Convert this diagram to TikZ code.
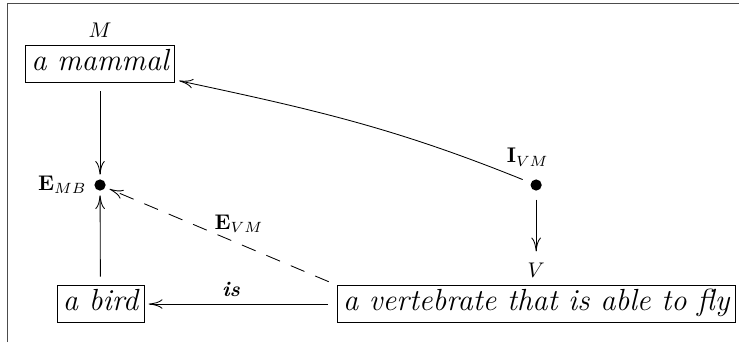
\documentclass[tikz,border=0pt]{standalone}
\usetikzlibrary{arrows.meta}
\begin{document}
\begin{tikzpicture}[x=1cm,y=1cm,
  concept/.style={draw,font=\Large\itshape,inner xsep=2.8pt,inner ysep=2pt,text height=10pt,text depth=3.5pt},
  dot/.style={circle,fill,inner sep=0pt,minimum size=5.3pt},
  link/.style={-{To[length=6.5pt,width=4.5pt]},shorten <=4pt,shorten >=2pt}]
  \useasboundingbox (0,0) rectangle (12.25,5.67);
  \draw[black!70] (0.116,0) -- (0.116,5.621) -- (12.25,5.621);
  % the concepts
  \node[concept,label=above:$M$] (mammal) at (1.658,4.609) {a mammal};
  \node[concept] (bird) at (1.666,0.630) {a bird};
  \node[concept,label={[name=Vlab]above:$V$}] (vert) at (8.887,0.630) {a vertebrate that is able to fly};
  % the links
  \node[dot,label=left:$\mathbf{E}_{MB}$] (EMB) at (1.658,2.603) {};
  \node[dot,label={[label distance=2.5pt,xshift=-4pt]above:$\mathbf{I}_{VM}$}] (IVM) at (8.887,2.603) {};
  \draw[link] (mammal) -- (EMB);
  \draw[link] (bird) -- (EMB);
  \draw[link] (IVM) -- (Vlab);
  \draw[link] (IVM) to[out=158,in=-12] (mammal);
  \draw[link,dash pattern=on 7pt off 5.5pt] (vert.north west) -- node[pos=0.53,anchor=south west,inner sep=0pt] {$\mathbf{E}_{VM}$} (EMB);
  \draw[link] (vert) -- node[above,pos=0.55] {\textbf{\textit{is}}} (bird);
\end{tikzpicture}
\end{document}
